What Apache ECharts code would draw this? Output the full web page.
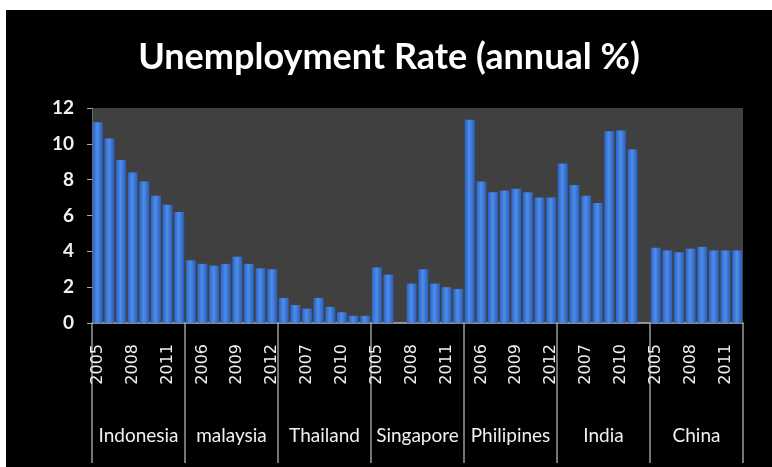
<!DOCTYPE html>
<html>
<head>
<meta charset="utf-8">
<script src="https://cdn.jsdelivr.net/npm/echarts@6/dist/echarts.min.js"></script>
<style>
html,body{margin:0;padding:0;background:#fff;width:772px;height:467px;overflow:hidden;}
#c{position:absolute;left:6px;top:10px;width:766px;height:457px;background:#000;}
</style>
</head>
<body>
<div id="c"></div>
<script>
const years = ['2005','2006','2007','2008','2009','2010','2011','2012'];
const countries = ['Indonesia','malaysia','Thailand','Singapore','Philipines','India','China'];
const indonesia = [11.2, 10.3, 9.1, 8.4, 7.9, 7.1, 6.6, 6.2];
const malaysia = [3.5, 3.3, 3.2, 3.3, 3.7, 3.3, 3.05, 3.0];
const thailand = [1.4, 1.0, 0.8, 1.4, 0.9, 0.6, 0.4, 0.4];
const singapore = [3.1, 2.7, null, 2.2, 3.0, 2.2, 2.0, 1.9];
const philipines = [11.35, 7.9, 7.3, 7.4, 7.5, 7.3, 7.0, 7.0];
const india = [8.9, 7.7, 7.1, 6.7, 10.7, 10.75, 9.7, null];
const china = [4.2, 4.05, 3.95, 4.15, 4.25, 4.05, 4.05, 4.05];
const yTicks = [0, 2, 4, 6, 8, 10, 12];

const series = [indonesia, malaysia, thailand, singapore, philipines, india, china];
const cats = [];
const vals = [];
series.forEach(function (arr) {
  arr.forEach(function (v, i) { cats.push(years[i]); vals.push(v); });
});

const chart = echarts.init(document.getElementById('c'));
chart.setOption({
  backgroundColor: '#000',
  animation: false,
  title: {
    text: 'Unemployment Rate (annual %)',
    left: 'center',
    top: 24,
    textStyle: { color: '#ffffff', fontSize: 36, fontWeight: 'bold', fontFamily: 'Lato' }
  },
  grid: {
    left: 86, right: 29, top: 98, bottom: 144,
    show: true, backgroundColor: '#404040', borderWidth: 0
  },
  xAxis: [{
    type: 'category',
    data: cats,
    position: 'bottom',
    axisLine: { show: true, lineStyle: { color: '#b8b8b8', width: 1.5 } },
    axisTick: { show: false },
    axisLabel: {
      interval: 2, rotate: 90, margin: 21,
      color: '#f0f0f0', fontSize: 16, fontFamily: 'DejaVu Sans'
    }
  }, {
    type: 'category',
    data: countries,
    position: 'bottom',
    offset: 0,
    axisLine: { show: false },
    axisTick: { show: true, interval: 0, length: 140, lineStyle: { color: '#9a9a9a', width: 1.5 } },
    axisLabel: {
      interval: 0, margin: 103,
      color: '#f0f0f0', fontSize: 19, fontFamily: 'Lato'
    }
  }],
  yAxis: {
    type: 'value',
    min: yTicks[0], max: yTicks[yTicks.length - 1], interval: 2,
    axisLine: { show: true, lineStyle: { color: '#6a6a6a' } },
    axisTick: { show: true, length: 5, lineStyle: { color: '#aaaaaa' } },
    splitLine: { show: false },
    axisLabel: { margin: 18, color: '#f0f0f0', fontSize: 19, fontWeight: 'bold', fontFamily: 'Lato' }
  },
  series: [{
    type: 'bar',
    xAxisIndex: 0,
    data: vals,
    barCategoryGap: '14%',
    itemStyle: {
      color: new echarts.graphic.LinearGradient(0, 0, 1, 0, [
        { offset: 0, color: '#2c63c4' },
        { offset: 0.45, color: '#4d8de9' },
        { offset: 1, color: '#2a5cb8' }
      ])
    }
  }]
});
</script>
</body>
</html>
